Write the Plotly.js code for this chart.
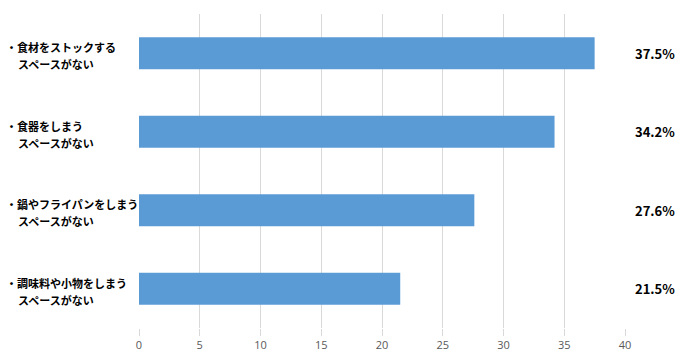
<!DOCTYPE html>
<html>
<head>
<meta charset="utf-8">
<script src="https://cdn.plot.ly/plotly-3.0.1.min.js"></script>
<style>html,body{margin:0;padding:0;background:#fff;}#chart{width:680px;height:358px;}</style>
</head>
<body>
<div id="chart"></div>
<script>
var categories = ["食材をストックする", "食器をしまう", "鍋やフライパンをしまう", "調味料や小物をしまう"];
var labelLine1 = ["・食材をストックする", "・食器をしまう", "・鍋やフライパンをしまう", "・調味料や小物をしまう"];
var labelLine2 = ["スペースがない", "スペースがない", "スペースがない", "スペースがない"];
var values = [37.5, 34.2, 27.6, 21.5];
var valueLabels = ["37.5%", "34.2%", "27.6%", "21.5%"];
var tickVals = [0, 5, 10, 15, 20, 25, 30, 35, 40];

var jp = '"Noto Sans CJK JP", "Noto Sans", sans-serif';

var annotations = [];
for (var i = 0; i < categories.length; i++) {
  annotations.push({
    xref: 'paper', yref: 'y', x: -0.277, y: categories[i],
    xanchor: 'left', yanchor: 'middle', align: 'left', yshift: 6,
    text: labelLine1[i], showarrow: false,
    font: {family: jp, size: 11, color: '#000000', weight: 'bold'}
  });
  annotations.push({
    xref: 'paper', yref: 'y', x: -0.253, y: categories[i],
    xanchor: 'left', yanchor: 'middle', align: 'left', yshift: -11,
    text: labelLine2[i], showarrow: false,
    font: {family: jp, size: 11, color: '#000000', weight: 'bold'}
  });
  annotations.push({
    xref: 'paper', yref: 'y', x: 1.062, y: categories[i],
    xanchor: 'center', yanchor: 'middle',
    text: '<b>' + valueLabels[i] + '</b>', showarrow: false,
    font: {family: jp, size: 13, color: '#000000'}
  });
}

Plotly.newPlot('chart', [{
  type: 'bar', orientation: 'h',
  y: categories, x: values,
  marker: {color: '#5b9bd5'},
  hoverinfo: 'none'
}], {
  width: 680, height: 358,
  margin: {l: 139, r: 55, t: 14, b: 30},
  paper_bgcolor: '#ffffff', plot_bgcolor: '#ffffff',
  bargap: 0.595,
  showlegend: false,
  xaxis: {
    range: [0, 40], tickvals: tickVals, showgrid: true, gridcolor: '#d9d9d9', gridwidth: 1,
    zeroline: false, showline: false, ticks: 'outside', ticklen: 7, tickcolor: '#d9d9d9',
    tickfont: {family: '"Open Sans", sans-serif', size: 11, color: '#595959'}
  },
  yaxis: {
    categoryorder: 'array', categoryarray: categories, autorange: 'reversed',
    showticklabels: false, showgrid: false, zeroline: false, showline: false, ticks: ''
  },
  annotations: annotations
}, {displayModeBar: false, staticPlot: true});
</script>
</body>
</html>
